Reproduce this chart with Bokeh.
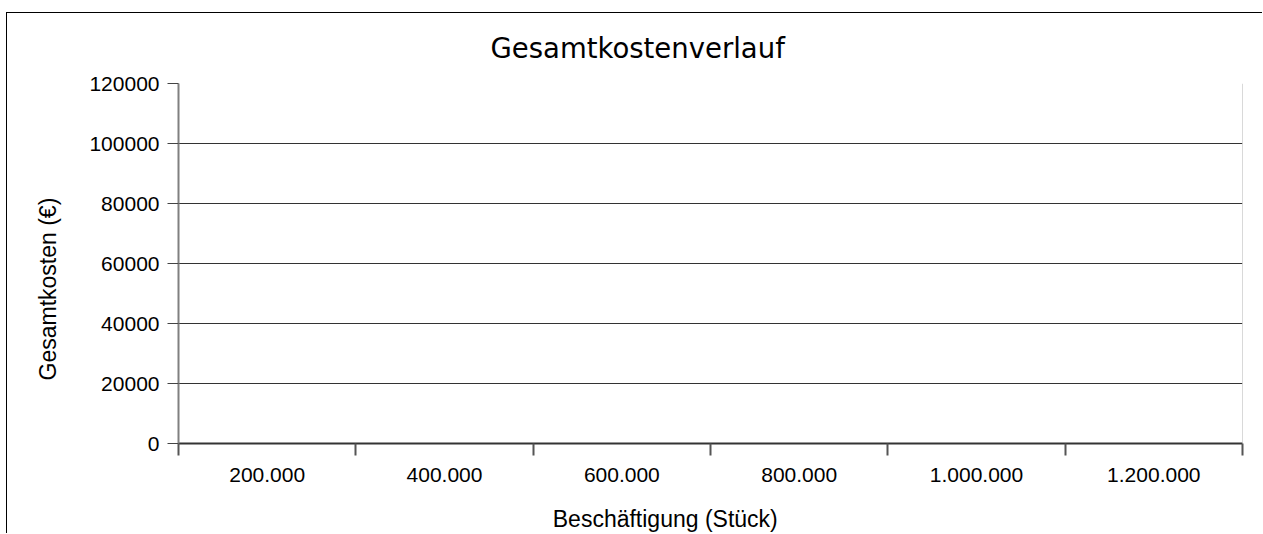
from bokeh.plotting import figure
from bokeh.models import FixedTicker, Range1d, Span, Title, LinearAxis
from bokeh.embed import file_html
from bokeh.resources import INLINE

# Data (the reference chart contains no plotted series)
x_categories = [200000, 400000, 600000, 800000, 1000000, 1200000]
x_tick_labels = ["200.000", "400.000", "600.000", "800.000", "1.000.000", "1.200.000"]
x_boundaries = [100000, 300000, 500000, 700000, 900000, 1100000, 1300000]
y_ticks = [0, 20000, 40000, 60000, 80000, 100000, 120000]
y_tick_labels = ["0", "20000", "40000", "60000", "80000", "100000", "120000"]

# layout: the x-axis title is centred on the whole chart, not on the plot area
x_title_anchor = 649000

p = figure(width=1256, height=521, output_backend="svg", toolbar_location=None,
           x_range=Range1d(100000, 1300000), y_range=Range1d(0, 120000),
           min_border_left=171, min_border_right=21, min_border_top=70,
           min_border_bottom=91, title="Gesamtkostenverlauf")
p.margin = (12, 0, 0, 6)
p.styles = {"border-left": "1px solid black", "border-top": "1px solid black"}
p.outline_line_color = None
p.background_fill_color = "white"
p.border_fill_color = "white"

p.title.text_font = "DejaVu Sans"
p.title.text_font_size = "27.5px"
p.title.text_font_style = "normal"
p.title.text_color = "black"
p.title.align = "left"
p.title.offset = 312
p.title.vertical_align = "top"
p.title.standoff = 36

# x axis
p.xaxis.ticker = FixedTicker(ticks=x_categories, minor_ticks=x_boundaries)
p.xaxis.major_label_overrides = {v: l for v, l in zip(x_categories, x_tick_labels)}
p.xaxis.major_tick_line_color = None
p.xaxis.minor_tick_in = 0
p.xaxis.minor_tick_out = 12
p.xaxis.minor_tick_line_color = "#555555"
p.xaxis.minor_tick_line_width = 2
p.xaxis.axis_line_color = "#333333"
p.xaxis.axis_line_width = 2
p.xaxis.major_label_standoff = 12
p.xaxis.major_label_text_font = "Liberation Sans"
p.xaxis.major_label_text_font_size = "21px"
p.xaxis.major_label_text_color = "black"

# x-axis title, drawn as the single label of a bare second axis below the first
x_title_axis = LinearAxis(ticker=FixedTicker(ticks=[x_title_anchor]),
                          major_label_overrides={x_title_anchor: "Beschäftigung (Stück)"},
                          axis_line_color=None, major_tick_line_color=None,
                          minor_tick_line_color=None, major_tick_out=0, major_tick_in=0,
                          major_label_standoff=21,
                          major_label_text_font="Liberation Sans",
                          major_label_text_font_size="23px",
                          major_label_text_color="black")
p.add_layout(x_title_axis, "below")

# y axis
p.yaxis.ticker = FixedTicker(ticks=y_ticks)
p.yaxis.major_label_overrides = {v: l for v, l in zip(y_ticks, y_tick_labels)}
p.yaxis.minor_tick_line_color = None
p.yaxis.major_tick_in = 0
p.yaxis.major_tick_out = 11
p.yaxis.major_tick_line_color = "#444444"
p.yaxis.axis_line_color = "#808080"
p.yaxis.axis_line_width = 2
p.yaxis.major_label_standoff = 8
p.yaxis.major_label_text_font = "Liberation Sans"
p.yaxis.major_label_text_font_size = "21px"
p.yaxis.major_label_text_color = "black"

y_title = Title(text="Gesamtkosten (€)", align="left", offset=63,
                text_font="Liberation Sans", text_font_size="23px",
                text_font_style="normal", text_color="black", standoff=51)
p.add_layout(y_title, "left")

p.xgrid.grid_line_color = None
p.ygrid.ticker = FixedTicker(ticks=y_ticks)
p.ygrid.grid_line_color = "#333333"
p.ygrid.grid_line_width = 1

p.add_layout(Span(location=1300000, dimension="height", line_color="#b3b3b3", line_width=1))

open("out.html", "w").write(file_html(p, INLINE))
